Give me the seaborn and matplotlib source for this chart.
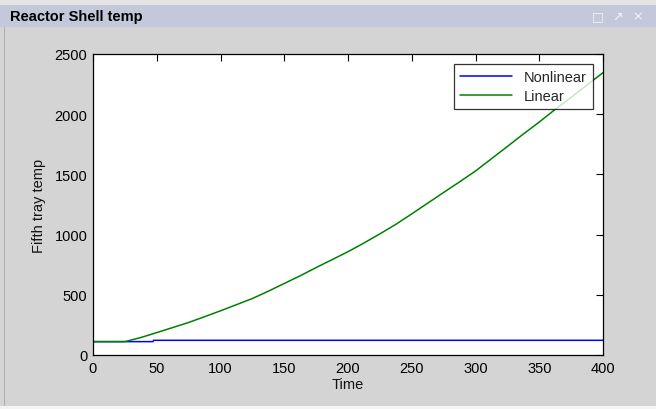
import pandas as pd
import seaborn as sns
from matplotlib import pyplot as plt
from matplotlib.patches import Rectangle

# Data ~~~~~~~~~~~~~~~~~~~~~~~~~~~~~~~~~~~~~~~~~~~~~~~~~~~~~~~~~~~~~~~~~~~~~
time_linear = [0, 25, 37.5, 50, 62.5, 75, 87.5, 100, 112.5, 125, 137.5, 150, 162.5, 175,
               187.5, 200, 212.5, 225, 237.5, 250, 262.5, 275, 287.5, 300, 312.5, 325,
               337.5, 350, 362.5, 375, 387.5, 400]
temp_linear = [111, 111, 145, 186, 228, 270, 318, 367, 418, 469, 530, 594, 658, 726,
               792, 858, 930, 1006, 1085, 1172, 1261, 1350, 1438, 1528, 1630, 1732,
               1835, 1935, 2040, 2140, 2243, 2345]

time_nonlinear = [0, 25, 47, 47.5, 400]
temp_nonlinear = [111, 111, 111, 122, 122]

series_names = ["Nonlinear", "Linear"]
series_colors = ["#0000ff", "#008000"]

df = pd.concat([
    pd.DataFrame({"Time": time_nonlinear, "temp": temp_nonlinear, "series": series_names[0]}),
    pd.DataFrame({"Time": time_linear, "temp": temp_linear, "series": series_names[1]}),
])

sns.set_style("white")
plt.rcParams['font.family'] = ['Liberation Sans', 'DejaVu Sans']

fig = plt.figure(figsize=(6.56, 4.10), dpi=100)
fig.patch.set_facecolor("#d4d4d4")

# window chrome
fig.patches.append(Rectangle((0, 1 - 6 / 410), 1, 6 / 410, transform=fig.transFigure,
                             facecolor="#e4e4e4", edgecolor="none", zorder=0))
fig.patches.append(Rectangle((0, 1 - 28 / 410), 1, 22 / 410, transform=fig.transFigure,
                             facecolor="#c3c9db", edgecolor="none", zorder=0))
fig.patches.append(Rectangle((0, 0), 1, 3 / 410, transform=fig.transFigure,
                             facecolor="#f4f4f4", edgecolor="none", zorder=0))
fig.patches.append(Rectangle((4 / 656, 3 / 410), 1 / 656, 1 - 31 / 410, transform=fig.transFigure,
                             facecolor="#b0b0b0", edgecolor="none", zorder=0))
fig.text(10 / 656, 1 - 17 / 410, "Reactor Shell temp", fontsize=10.5, fontweight="bold",
         va="center", ha="left", color="#000000")
for xp, s in [(598, "□"), (618, "↗"), (638, "×")]:
    fig.text(xp / 656, 1 - 17 / 410, s, fontsize=9, color="#f4f4f8", va="center", ha="center",
             family=['DejaVu Sans'])

ax = fig.add_axes([93 / 656, 1 - 356 / 410, 510 / 656, 301 / 410])
ax.set_facecolor("white")

sns.lineplot(data=df, x="Time", y="temp", hue="series", hue_order=series_names,
             palette=series_colors, linewidth=1.1, ax=ax, sort=False, estimator=None)

ax.set_xlim(0, 400)
ax.set_ylim(0, 2500)
ax.set_xticks(range(0, 401, 50))
ax.set_yticks(range(0, 2501, 500))
ax.set_xlabel("Time", fontsize=10.5, labelpad=2, color="#111111")
ax.set_ylabel("Fifth tray temp", fontsize=10.5, labelpad=6, color="#111111")
ax.tick_params(direction="in", length=5, width=0.8, top=True, right=True,
               labelsize=10.5, colors="#000000", pad=4)
for sp in ax.spines.values():
    sp.set_color("#000000")
    sp.set_linewidth(0.9)

leg = ax.legend(loc="upper right", fontsize=10.5, frameon=True, fancybox=False,
                handlelength=3.6, borderaxespad=0.7, borderpad=0.4, labelspacing=0.35)
leg.get_frame().set_edgecolor("#000000")
leg.get_frame().set_linewidth(0.9)
leg.set_title(None)

fig.savefig("out.png", dpi=100, facecolor=fig.get_facecolor())
